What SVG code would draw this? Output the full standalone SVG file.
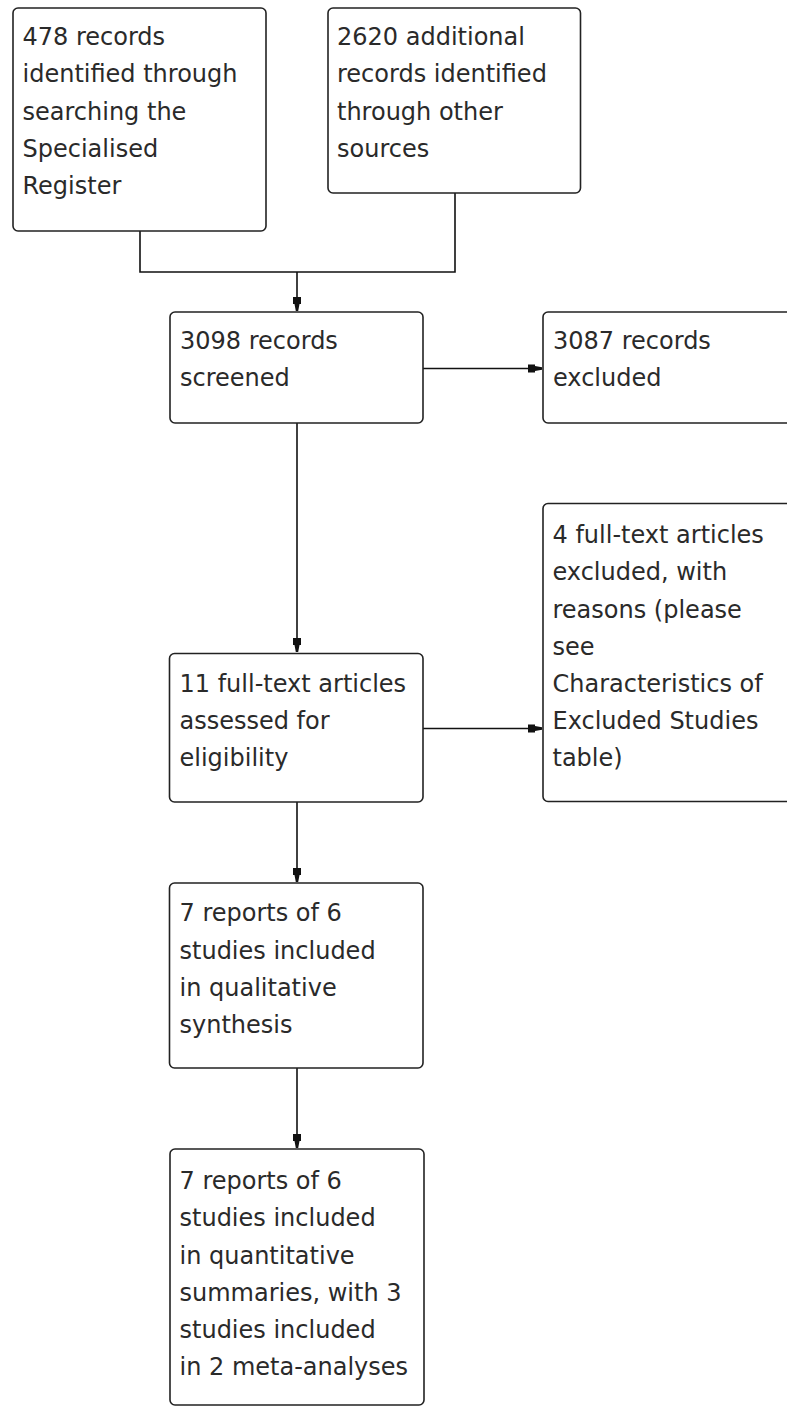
<svg xmlns="http://www.w3.org/2000/svg" width="787" height="1406" viewBox="0 0 787 1406">
<style>
.box{fill:#fff;stroke:#222;stroke-width:1.6}
.lbl{font-family:"DejaVu Sans",sans-serif;font-size:24px;fill:#2a2a2a}
.conn{fill:none;stroke:#111;stroke-width:1.6}
</style>
<defs>
<marker id="ah" markerUnits="userSpaceOnUse" markerWidth="16" markerHeight="12" viewBox="-15 -6 16 12" refX="0" refY="0" orient="auto">
<path d="M-14,-4 L-7,-4 L-7,-2.5 L0,-1.2 L0,1.2 L-7,2.5 L-7,4 L-14,4 Z" fill="#111"/>
</marker>
</defs>
<rect width="787" height="1406" fill="#fff"/>
<g id="connectors">
<path class="conn" d="M140,231 V272 H455 V193"/>
<path class="conn" d="M297,272 V311" marker-end="url(#ah)"/>
<path class="conn" d="M423,368.5 H542" marker-end="url(#ah)"/>
<path class="conn" d="M297,423 V652" marker-end="url(#ah)"/>
<path class="conn" d="M423,728.5 H542" marker-end="url(#ah)"/>
<path class="conn" d="M297,802 V882" marker-end="url(#ah)"/>
<path class="conn" d="M297,1068 V1148" marker-end="url(#ah)"/>
</g>
<g id="n1">
<rect class="box" x="13" y="8" width="253" height="223" rx="5"/>
<text class="lbl"><tspan x="22.5" y="45">478 records</tspan><tspan x="22.5" y="82">identified through</tspan><tspan x="22.5" y="119.5">searching the</tspan><tspan x="22.5" y="157">Specialised</tspan><tspan x="22.5" y="194">Register</tspan></text>
</g>
<g id="n2">
<rect class="box" x="328" y="8" width="252.5" height="185" rx="5"/>
<text class="lbl"><tspan x="337" y="45">2620 additional</tspan><tspan x="337" y="82">records identified</tspan><tspan x="337" y="119.5">through other</tspan><tspan x="337" y="157">sources</tspan></text>
</g>
<g id="n3">
<rect class="box" x="170" y="312" width="253" height="111" rx="5"/>
<text class="lbl"><tspan x="180" y="349">3098 records</tspan><tspan x="180" y="386">screened</tspan></text>
</g>
<g id="n4">
<rect class="box" x="543" y="312" width="260" height="111" rx="5"/>
<text class="lbl"><tspan x="553" y="349">3087 records</tspan><tspan x="553" y="386">excluded</tspan></text>
</g>
<g id="n5">
<rect class="box" x="543" y="503.5" width="260" height="298" rx="5"/>
<text class="lbl"><tspan x="552.5" y="543">4 full-text articles</tspan><tspan x="552.5" y="580">excluded, with</tspan><tspan x="552.5" y="617.5">reasons (please</tspan><tspan x="552.5" y="654.5">see</tspan><tspan x="552.5" y="692">Characteristics of</tspan><tspan x="552.5" y="729">Excluded Studies</tspan><tspan x="552.5" y="766">table)</tspan></text>
</g>
<g id="n6">
<rect class="box" x="169.5" y="653.5" width="253.5" height="148.5" rx="5"/>
<text class="lbl"><tspan x="179.5" y="691.5">11 full-text articles</tspan><tspan x="179.5" y="728.5">assessed for</tspan><tspan x="179.5" y="766">eligibility</tspan></text>
</g>
<g id="n7">
<rect class="box" x="169.5" y="883" width="253.5" height="185" rx="5"/>
<text class="lbl"><tspan x="179.5" y="921">7 reports of 6</tspan><tspan x="179.5" y="958.5">studies included</tspan><tspan x="179.5" y="995.5">in qualitative</tspan><tspan x="179.5" y="1033">synthesis</tspan></text>
</g>
<g id="n8">
<rect class="box" x="170" y="1149" width="254" height="256" rx="5"/>
<text class="lbl"><tspan x="179.5" y="1189">7 reports of 6</tspan><tspan x="179.5" y="1226">studies included</tspan><tspan x="179.5" y="1263.5">in quantitative</tspan><tspan x="179.5" y="1301">summaries, with 3</tspan><tspan x="179.5" y="1338">studies included</tspan><tspan x="179.5" y="1375">in 2 meta-analyses</tspan></text>
</g>
</svg>
